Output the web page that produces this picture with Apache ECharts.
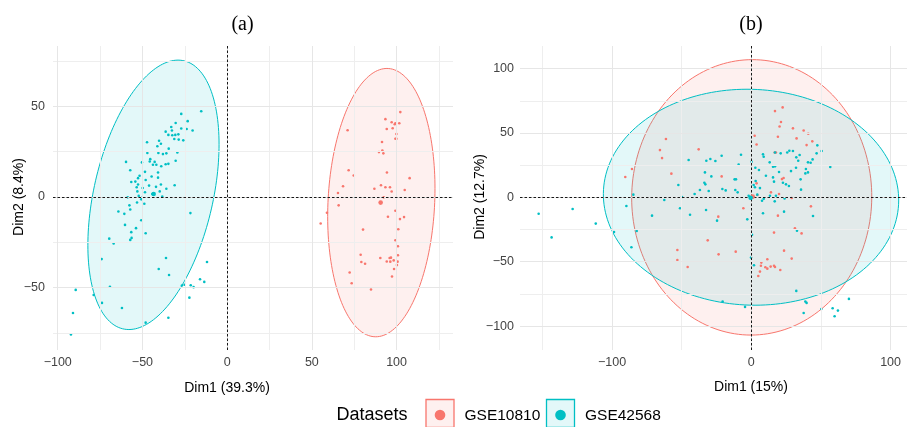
<!DOCTYPE html>
<html><head><meta charset="utf-8">
<script src="https://cdn.jsdelivr.net/npm/echarts@6/dist/echarts.min.js"></script>
<style>html,body{margin:0;padding:0;background:#fff}#c{width:907px;height:427px}</style>
</head><body><div id="c"></div>
<script>
// ---------- groups ----------
const groupNames = ['GSE10810', 'GSE42568'];
const groupColors = ['#F8766D', '#00BFC4'];
const legendTitle = 'Datasets';
const panelTitles = ['(a)', '(b)'];
const xTitles = ['Dim1 (39.3%)', 'Dim1 (15%)'];
const yTitles = ['Dim2 (8.4%)', 'Dim2 (12.7%)'];

// ---------- panel (a) ----------
const redA = [[102.2,46.9],[97.1,41.3],[99.3,40.7],[101.6,40.7],[98.9,40.2],[97.7,38.0],[93.4,43.0],[94.2,37.6],[71.1,36.9],[99.9,34.8],[99.3,32.2],[99.9,32.2],[91.4,30.4],[91.6,25.7],[89.6,24.8],[92.2,24.1],[71.7,14.8],[74.7,11.9],[94.3,13.5],[107.7,10.4],[68.4,5.9],[65.4,2.2],[86.9,4.6],[90.8,6.5],[93.4,5.4],[96.1,5.4],[97.1,3.0],[104.8,3.9],[92.4,-0.2],[65.8,-4.6],[58.9,-8.7],[55.2,-14.6],[94.9,-10.9],[99.3,-7.6],[102.0,-12.2],[104.4,-11.1],[80.2,-18.0],[101.0,-17.8],[99.3,-23.9],[100.8,-27.2],[78.8,-31.9],[79.2,-35.9],[81.4,-36.9],[90.4,-33.7],[95.9,-33.7],[96.7,-33.5],[94.2,-35.6],[96.3,-35.7],[98.3,-35.0],[100.8,-32.2],[100.6,-35.7],[100.2,-37.6],[98.5,-39.8],[72.3,-41.7],[73.5,-47.6],[97.3,-43.9],[84.9,-51.1]];
const cyanA = [[-15.3,47.4],[-27.1,45.9],[-23.3,41.9],[-30.4,40.9],[-27.1,37.8],[-33.0,38.7],[-36.3,36.1],[-20.4,36.7],[-23.9,37.6],[-32.6,36.7],[-34.7,34.3],[-32.4,34.1],[-30.6,34.3],[-28.8,34.6],[-31.2,32.0],[-28.6,31.7],[-25.9,31.3],[-47.3,30.2],[-40.2,31.1],[-39.1,29.4],[-41.2,28.0],[-34.5,26.7],[-47.1,24.3],[-40.6,24.3],[-37.9,23.7],[-35.9,24.1],[-29.4,24.6],[-45.4,20.9],[-42.8,19.4],[-45.7,19.6],[-43.8,17.8],[-41.8,17.8],[-36.3,18.1],[-34.7,18.3],[-30.4,20.0],[-38.9,17.0],[-50.3,19.1],[-59.7,19.4],[-57.2,14.8],[-48.5,13.9],[-51.7,11.7],[-52.6,10.4],[-40.8,13.5],[-44.6,11.3],[-40.8,10.7],[-48.1,9.4],[-54.2,8.5],[-56.6,8.3],[-52.6,6.9],[-53.4,5.4],[-46.1,6.3],[-42.0,5.6],[-39.1,6.9],[-35.9,4.6],[-31.0,6.5],[-49.9,5.0],[-53.0,3.1],[-48.5,2.6],[-44.2,1.7],[-39.8,3.1],[-38.3,0.2],[-52.2,0.6],[-50.3,-0.4],[-50.7,-1.3],[-58.7,-0.2],[-53.2,-3.0],[-48.9,-3.7],[-57.7,-4.6],[-57.2,-6.9],[-64.2,-8.0],[-60.7,-9.3],[-21.7,-8.9],[-50.7,-12.8],[-60.3,-15.4],[-53.8,-17.2],[-56.6,-19.4],[-48.1,-20.0],[-57.2,-23.7],[-56.4,-22.6],[-69.6,-23.0],[-67.0,-25.7],[-74.1,-34.3],[-36.1,-33.7],[-40.4,-39.8],[-34.3,-43.1],[-11.9,-35.9],[-16.0,-45.4],[-13.5,-46.9],[-26.7,-48.9],[-25.1,-48.5],[-21.5,-48.7],[-19.8,-49.8],[-22.3,-55.6],[-69.2,-49.6],[-89.4,-51.3],[-78.8,-54.1],[-73.9,-58.5],[-62.1,-61.3],[-91.0,-64.1],[-48.1,-69.4],[-34.7,-66.7],[-92.2,-75.9]];
const meanRedA = [90.6, -3.1];
const meanCyanA = [-43.4, 1.7];
// ellipse: [centre x, centre y, half-width at centre height, top-point offset x, top-point offset y]
const ellipseRedA = [91.0, -3.1, 31.5, 3.3, 74.1];
const ellipseCyanA = [-43.5, 1.2, 35.9, 14.5, 74.4];

// ---------- panel (b) ----------
const redB = [[-61.3,45.3],[-65.6,36.7],[-64.1,30.5],[-85.7,22.0],[-90.5,15.8],[-57.4,18.4],[-37.8,37.3],[-21.3,16.3],[-5.7,-8.5],[-23.7,-15.0],[-31.3,-33.4],[-53.1,-40.9],[-53.1,-48.7],[-45.7,-54.1],[-23.5,-44.3],[-11.2,-42.2],[22.5,69.9],[17.0,67.0],[21.3,58.5],[20.3,55.1],[29.9,53.6],[37.6,52.0],[40.9,49.4],[19.1,47.1],[32.5,45.8],[43.8,43.5],[39.7,40.6],[2.4,47.9],[3.8,41.1],[16.8,34.9],[17.7,34.9],[22.0,14.2],[23.2,15.0],[3.8,10.9],[4.3,1.8],[14.1,3.9],[19.9,2.6],[29.0,-0.5],[42.8,-7.0],[19.1,-14.2],[31.3,-24.1],[16.3,-27.4],[36.1,-28.0],[23.5,-41.4],[11.5,-48.1],[7.2,-50.7],[6.9,-53.1],[10.1,-54.3],[11.5,-55.4],[13.9,-53.8],[16.3,-53.1],[17.0,-54.1],[20.8,-56.4],[6.2,-57.7],[5.0,-61.1],[29.0,-47.6]];
const cyanB = [[-45.0,29.0],[-32.3,28.5],[-29.4,29.8],[-25.8,28.2],[-21.3,32.3],[-7.4,33.1],[-9.1,25.4],[-33.3,19.4],[-28.7,16.3],[-33.7,11.4],[-33.0,10.1],[-36.9,5.7],[-30.6,4.9],[-20.8,6.5],[-18.4,5.4],[-12.0,14.0],[-11.0,14.0],[-11.5,5.7],[-9.8,3.9],[-52.4,9.6],[-40.7,2.6],[-49.8,0.3],[-62.5,-2.1],[-84.7,2.1],[-89.7,-6.7],[-51.2,-8.5],[-44.0,-13.5],[-32.5,-9.8],[-24.6,-18.1],[-71.3,-14.2],[-82.3,-26.1],[-98.6,-26.9],[-86.1,-38.8],[-111.7,-20.4],[-20.6,-81.0],[-152.7,-12.7],[-143.4,-31.1],[-128.3,-9.1],[8.4,33.4],[8.9,31.6],[17.0,34.9],[21.1,34.2],[25.8,34.9],[27.3,36.2],[29.9,36.0],[32.3,31.1],[34.7,32.9],[33.7,28.5],[40.7,27.2],[42.6,26.9],[44.0,29.5],[47.4,40.4],[50.5,36.0],[46.9,34.2],[0.2,27.7],[2.9,23.0],[5.5,21.2],[13.2,27.2],[15.6,23.8],[17.0,24.1],[32.1,23.0],[28.5,20.4],[39.2,22.0],[35.4,14.0],[40.7,19.4],[38.8,18.6],[10.5,16.8],[19.9,19.7],[15.6,15.5],[16.3,12.2],[22.7,11.4],[24.9,10.1],[27.0,8.8],[3.1,12.7],[1.7,9.6],[2.6,7.8],[6.2,7.2],[4.3,2.1],[8.9,-1.0],[7.7,-2.6],[13.4,1.3],[17.7,1.3],[23.9,-0.8],[16.8,-3.1],[35.7,6.0],[-1.9,1.3],[-2.9,-17.1],[8.4,-12.4],[23.5,-11.1],[44.3,-14.5],[32.8,-25.9],[0.5,-29.0],[-0.2,-46.8],[1.9,-52.8],[32.3,-72.7],[38.8,-81.0],[39.7,-82.0],[37.6,-89.8],[-4.5,-85.1],[50.3,-86.7],[56.7,23.6],[58.4,-86.2],[62.2,-88.0],[59.8,-92.4],[70.1,-78.9],[0.6,0.8],[-0.4,-0.6],[1.4,0.2]];
const meanRedB = [1.0, 0.6];
const meanCyanB = [-0.5, -0.3];
const ellipseRedB = [0.3, 0.0, 86.2, 0.5, 107.0];
const ellipseCyanB = [-0.2, 0.1, 106.0, -2.9, 83.9];

// ---------- axes ----------
const xRangeA = [-102.8, 133.3], yRangeA = [-84.5, 83.4];
const xRangeB = [-166.1, 111.8], yRangeB = [-118.6, 117.6];
const xTicksA = [-100, -50, 0, 50, 100], yTicksA = [-50, 0, 50];
const xTicksB = [-100, 0, 100], yTicksB = [-100, -50, 0, 50, 100];
const xMinorA = [-75, -25, 25, 75, 125], yMinorA = [-75, -25, 25, 75];
const xMinorB = [-150, -50, 50], yMinorB = [-75, -25, 25, 75];
const zeroLines = [0];

const FONT = '"Liberation Sans", Arial, Helvetica, sans-serif';
const fmt = v => String(v).replace('-', '\u2212');
const alpha = 0.11;
function rgba(hex, a) {
  const n = parseInt(hex.slice(1), 16);
  return `rgba(${n >> 16},${(n >> 8) & 255},${n & 255},${a})`;
}

function xAxisCfg(idx, range, ticks) {
  return {
    type: 'value', gridIndex: idx, min: range[0], max: range[1],
    axisLine: { show: false },
    axisTick: { show: true, customValues: ticks, length: 3, lineStyle: { color: '#333', width: 1 } },
    axisLabel: { customValues: ticks, formatter: fmt, margin: 6, fontSize: 12.5, color: '#444', fontFamily: FONT },
    splitLine: { show: false }
  };
}
function yAxisCfg(idx, range, ticks, margin) {
  return {
    type: 'value', gridIndex: idx, min: range[0], max: range[1],
    axisLine: { show: false },
    axisTick: { show: true, customValues: ticks, length: 3, lineStyle: { color: '#333', width: 1 } },
    axisLabel: { customValues: ticks, formatter: fmt, margin: margin, fontSize: 12.5, color: '#444', fontFamily: FONT },
    splitLine: { show: false }
  };
}
function gridLineSeries(idx, xs, ys, color) {
  return {
    type: 'scatter', xAxisIndex: idx, yAxisIndex: idx, data: [], z: 0, silent: true,
    markLine: {
      silent: true, symbol: ['none', 'none'], label: { show: false }, emphasis: { disabled: true },
      animation: false, precision: 4,
      lineStyle: { color: color, width: 1, type: 'solid' },
      data: xs.map(v => ({ xAxis: v })).concat(ys.map(v => ({ yAxis: v })))
    }
  };
}
function zeroLineSeries(idx) {
  return {
    type: 'scatter', xAxisIndex: idx, yAxisIndex: idx, data: [], z: 3, silent: true,
    markLine: {
      silent: true, symbol: ['none', 'none'], label: { show: false }, emphasis: { disabled: true },
      animation: false,
      lineStyle: { color: '#000', width: 0.9, type: [2.5, 2] },
      data: zeroLines.map(v => ({ xAxis: v })).concat(zeroLines.map(v => ({ yAxis: v })))
    }
  };
}
function ellipseSeries(idx, params, color) {
  return {
    type: 'custom', xAxisIndex: idx, yAxisIndex: idx, z: 2, silent: true, clip: true,
    data: [params],
    renderItem: function (p, api) {
      const cx = api.value(0), cy = api.value(1), W = api.value(2), Tx = api.value(3), Ty = api.value(4);
      const pts = [];
      const N = 180;
      for (let k = 0; k < N; k++) {
        const t = 2 * Math.PI * k / N;
        pts.push(api.coord([cx + W * Math.cos(t) + Tx * Math.sin(t), cy + Ty * Math.sin(t)]));
      }
      return { type: 'polygon', shape: { points: pts }, style: { fill: rgba(color, alpha), stroke: color, lineWidth: 1 } };
    }
  };
}
function pointSeries(idx, name, data, color, size, z) {
  return {
    type: 'scatter', name: name, xAxisIndex: idx, yAxisIndex: idx, data: data, z: z || 4,
    symbol: 'circle', symbolSize: size, itemStyle: { color: color, opacity: 1 }, silent: true
  };
}

const graphics = [];
// panel titles
[[242.5, 25], [751, 25]].forEach((pos, i) => graphics.push({
  type: 'text', x: pos[0], y: pos[1],
  style: { text: panelTitles[i], align: 'center', verticalAlign: 'middle', font: '20px "Liberation Serif", "Times New Roman", serif', fill: '#000' }
}));
// axis titles
[[227, 388], [751, 387]].forEach((pos, i) => graphics.push({
  type: 'text', x: pos[0], y: pos[1],
  style: { text: xTitles[i], align: 'center', verticalAlign: 'middle', font: '14px ' + FONT, fill: '#000' }
}));
[[19, 197], [480, 197]].forEach((pos, i) => graphics.push({
  type: 'text', x: pos[0], y: pos[1], rotation: Math.PI / 2,
  style: { text: yTitles[i], align: 'center', verticalAlign: 'middle', font: '14px ' + FONT, fill: '#000' }
}));
// legend
graphics.push({ type: 'text', x: 336.5, y: 415.5, style: { text: legendTitle, align: 'left', verticalAlign: 'middle', font: '18px ' + FONT, fill: '#000' } });
const keyX = [426, 546.5], labelX = [464.5, 585];
groupNames.forEach((g, i) => {
  graphics.push({ type: 'rect', shape: { x: keyX[i], y: 399.5, width: 28, height: 28 }, style: { fill: rgba(groupColors[i], alpha), stroke: groupColors[i], lineWidth: 1.3 } });
  graphics.push({ type: 'circle', shape: { cx: keyX[i] + 14, cy: 415, r: 5.3 }, style: { fill: groupColors[i] } });
  graphics.push({ type: 'text', x: labelX[i], y: 415.5, style: { text: g, align: 'left', verticalAlign: 'middle', font: '15.5px ' + FONT, fill: '#000' } });
});

const option = {
  animation: false,
  backgroundColor: '#fff',
  grid: [
    { left: 53, top: 46, width: 400, height: 304 },
    { left: 520, top: 46, width: 387, height: 304 }
  ],
  xAxis: [xAxisCfg(0, xRangeA, xTicksA), xAxisCfg(1, xRangeB, xTicksB)],
  yAxis: [yAxisCfg(0, yRangeA, yTicksA, 8), yAxisCfg(1, yRangeB, yTicksB, 6)],
  series: [
    gridLineSeries(0, xMinorA, yMinorA, '#eeeeee'),
    gridLineSeries(0, xTicksA, yTicksA, '#e6e6e6'),
    gridLineSeries(1, xMinorB, yMinorB, '#eeeeee'),
    gridLineSeries(1, xTicksB, yTicksB, '#e6e6e6'),
    ellipseSeries(0, ellipseRedA, groupColors[0]),
    ellipseSeries(0, ellipseCyanA, groupColors[1]),
    ellipseSeries(1, ellipseRedB, groupColors[0]),
    ellipseSeries(1, ellipseCyanB, groupColors[1]),
    zeroLineSeries(0),
    zeroLineSeries(1),
    pointSeries(0, groupNames[0], redA, groupColors[0], 2.6),
    pointSeries(0, groupNames[1], cyanA, groupColors[1], 2.6),
    pointSeries(1, groupNames[0], redB, groupColors[0], 2.6),
    pointSeries(1, groupNames[1], cyanB, groupColors[1], 2.6),
    pointSeries(0, groupNames[0], [meanRedA], groupColors[0], 4.6, 5),
    pointSeries(0, groupNames[1], [meanCyanA], groupColors[1], 4.6, 5),
    pointSeries(1, groupNames[0], [meanRedB], groupColors[0], 4.6, 5),
    pointSeries(1, groupNames[1], [meanCyanB], groupColors[1], 4.6, 5)
  ],
  graphic: graphics
};
const chart = echarts.init(document.getElementById('c'), null, { renderer: 'canvas' });
chart.setOption(option);
</script>
</body></html>
